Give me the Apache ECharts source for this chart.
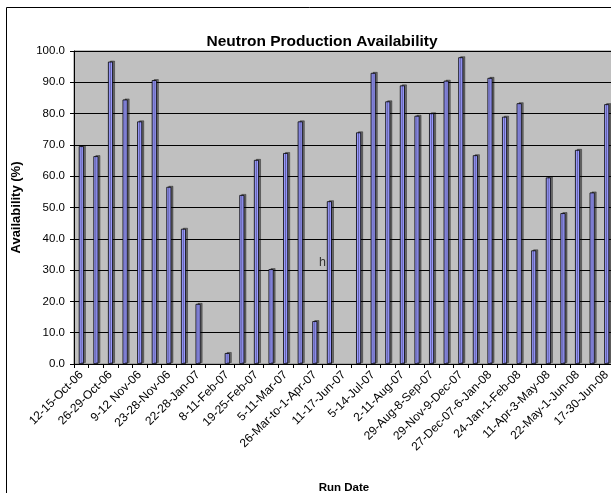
<!DOCTYPE html>
<html>
<head>
<meta charset="utf-8">
<script src="https://cdn.jsdelivr.net/npm/echarts@6/dist/echarts.min.js"></script>
<style>html,body{margin:0;padding:0;background:#fff;}#c{width:611px;height:493px;}</style>
</head>
<body>
<div id="c"></div>
<script>
const categories = [
  "12-15-Oct-06","19-22-Oct-06","26-29-Oct-06","2-5-Nov-06","9-12 Nov-06","16-19-Nov-06",
  "23-28-Nov-06","4-8-Dec-06","22-28-Jan-07","1-4-Feb-07","8-11-Feb-07","12-18-Feb-07",
  "19-25-Feb-07","26-Feb-4-Mar-07","5-11-Mar-07","12-18-Mar-07","26-Mar-to-1-Apr-07","2-8-Apr-07",
  "11-17-Jun-07","18-24-Jun-07","5-14-Jul-07","15-24-Jul-07","2-11-Aug-07","12-21-Aug-07",
  "29-Aug-8-Sep-07","9-18-Sep-07","29-Nov-9-Dec-07","10-20-Dec-07","27-Dec-07-6-Jan-08","7-17-Jan-08",
  "24-Jan-1-Feb-08","2-11-Feb-08","11-Apr-3-May-08","4-14-May-08","22-May-1-Jun-08","2-12-Jun-08",
  "17-30-Jun-08"
];
const availability = [
  69.6, 66.4, 96.6, 84.5, 77.5, 90.7,
  56.6, 43.2, 19.2, null, 3.5, 54.0,
  65.2, 30.3, 67.4, 77.5, 13.7, 52.0,
  null, 74.0, 93.0, 83.9, 89.0, 79.3,
  80.1, 90.5, 98.0, 66.7, 91.4, 79.0,
  83.3, 36.3, 59.6, 48.2, 68.4, 54.8,
  83.0
];
const yTicks = [0,10,20,30,40,50,60,70,80,90,100];

const chart = echarts.init(document.getElementById('c'), null, {renderer:'canvas'});
const F = '"Liberation Sans", Arial, sans-serif';
chart.setOption({
  animation:false,
  backgroundColor:'#ffffff',
  title:{
    text:'Neutron Production Availability',
    left:317, top:29, textAlign:'center',
    textStyle:{fontFamily:F, fontSize:15.5, fontWeight:'bold', color:'#000'}
  },
  grid:{left:74, top:51, width:540, height:313, containLabel:false, outerBoundsMode:'none',
        show:true, backgroundColor:'#c0c0c0', borderColor:'#808080', borderWidth:1},
  xAxis:{
    type:'category', data:categories, boundaryGap:true,
    name:'Run Date', nameLocation:'middle', nameGap:118,
    nameTextStyle:{fontFamily:F, fontSize:11.5, fontWeight:'bold', color:'#000'},
    axisLine:{lineStyle:{color:'#000', width:1}},
    axisTick:{show:true, interval:0, length:4, lineStyle:{color:'#000'}},
    axisLabel:{interval:1, rotate:45, margin:9, fontFamily:F, fontSize:12, color:'#000'},
    splitLine:{show:false}
  },
  yAxis:{
    type:'value', min:yTicks[0], max:yTicks[yTicks.length-1], interval:10,
    name:'Availability (%)', nameLocation:'middle', nameGap:51,
    nameTextStyle:{fontFamily:F, fontSize:13, fontWeight:'bold', color:'#000'},
    axisLine:{show:true, lineStyle:{color:'#000', width:1}},
    axisTick:{show:true, length:4, lineStyle:{color:'#000'}},
    axisLabel:{margin:9, fontFamily:F, fontSize:11.5, color:'#000', formatter:v=>v.toFixed(1)},
    splitLine:{show:true, lineStyle:{color:'#000', width:1}}
  },
  series:[{
    type:'bar', data:availability, barWidth:5,
    itemStyle:{color:'#9999ff', borderColor:'#000', borderWidth:0.8,
      shadowColor:'rgba(0,0,0,0.45)', shadowBlur:0, shadowOffsetX:2, shadowOffsetY:-1}
  }],
  graphic:[
    {type:'rect', shape:{x:6.5, y:7.5, width:700, height:600}, style:{fill:null, stroke:'#000', lineWidth:1}, z:100},
    {type:'text', left:319, top:256, style:{text:'h', font:'12.5px "Liberation Sans", Arial, sans-serif', fill:'#333'}, z:50}
  ]
});
</script>
</body>
</html>
